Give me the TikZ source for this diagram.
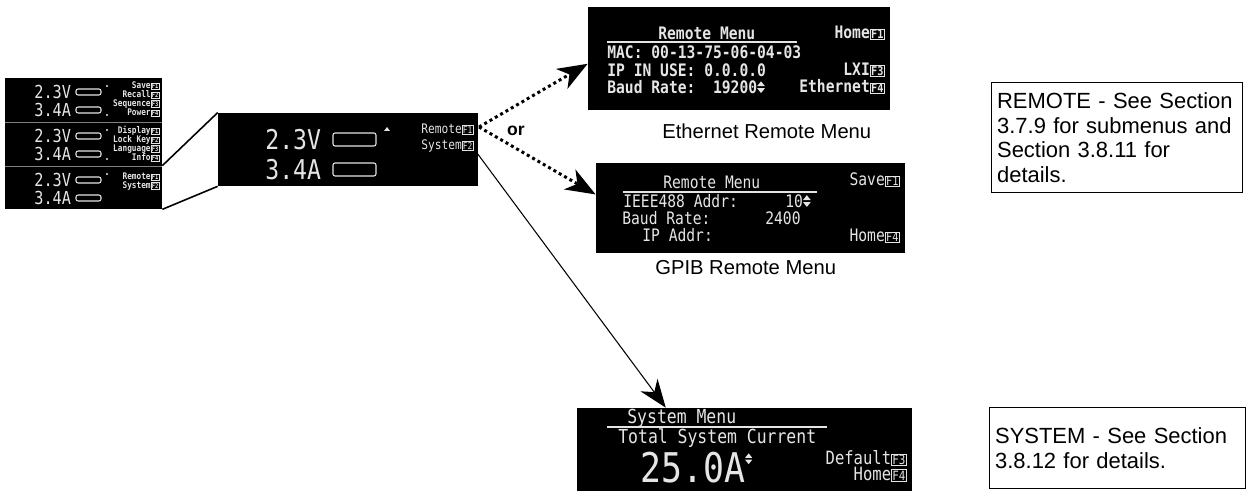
\documentclass[tikz,border=0pt]{standalone}
\usepackage{fontspec}
\setmainfont{Liberation Sans}
\newfontfamily\lcdfont[FakeStretch=0.85]{DejaVu Sans Mono}
\usetikzlibrary{arrows.meta,fit}
\definecolor{lcdfg}{gray}{0.9}
\newcommand\fkey[1]{{\fboxsep=0.3pt\fboxrule=0.4pt\fbox{\scalebox{0.7}{F#1}}}}
\newcommand\updn{\tikz[baseline=0pt,x=1em,y=1em]{\fill[lcdfg] (0,0.42) -- (0.45,0.42) -- (0.225,0.7) -- cycle
  (0,0.3) -- (0.45,0.3) -- (0.225,0.02) -- cycle;}}
\tikzset{
  screen/.style={fill=black,inner sep=0pt},
  lcd/.style={text=lcdfg,inner sep=0pt,font=\lcdfont\fontsize{#1}{#1}\selectfont},
  lcdb/.style={lcd=#1,font=\lcdfont\bfseries\fontsize{#1}{#1}\selectfont},
  lcdbar/.style={draw=lcdfg,line width=0.6pt,rounded corners=1.2pt},
  notebox/.style={draw,line width=0.7pt,inner sep=3pt,align=left,anchor=north west,font=\fontsize{12.5}{14}\selectfont},
  caption/.style={inner sep=0pt,anchor=west,font=\fontsize{11.5}{13}\selectfont},
  dotarrow/.style={line width=1.7pt,dash pattern=on 1.7pt off 1.8pt,-{Stealth[length=17pt,width=13pt,inset=5pt]}},
  solarrow/.style={line width=0.6pt,-{Stealth[length=16pt,width=12pt,inset=5pt]}}
}
\begin{document}
\begin{tikzpicture}[x=0.02cm,y=-0.02cm]
\useasboundingbox (0,0) rectangle (1251,493);
% the three small screens
\foreach \n/\t/\b in {1/78/122,2/122/166,3/166/209}
  \node[screen,fit={(5,\t)(162,\b)}] (small\n) {};
\draw[gray,line width=0.5pt] (small1.south west) -- (small1.south east);
\draw[gray,line width=0.5pt] (small2.south west) -- (small2.south east);
\foreach \t in {78,122,166} {
  \node[lcd=10.2,anchor=west] (volt\t) at (34,\t+14) {2.3V};
  \node[lcd=10.2,anchor=west] (amp\t) at (34,\t+32) {3.4A};
  \draw[lcdbar] (76,\t+11) rectangle (101,\t+17);
  \draw[lcdbar] (76,\t+29) rectangle (101,\t+35);
  \fill[lcdfg] (107,\t+8) circle (1.1);
}
\foreach \t in {78,122}
  \fill[lcdfg] (107,\t+37) circle (1.1);
\foreach \lab/\k/\y in {Save/1/86,Recall/2/95,Sequence/3/104,Power/4/113,
    Display/1/131,Lock Key/2/140,Language/3/149,Info/4/158,Remote/1/177,System/2/186}
  \node[lcdb=5.2,anchor=east] (lab\y) at (160,\y) {\lab\fkey{\k}};
% main screen
\node[screen,fit={(218,113)(478,186)}] (main) {};
\node[lcd=15.5,anchor=west] (mvolt) at (265,140) {2.3V};
\node[lcd=15.5,anchor=west] (mamp) at (265,170) {3.4A};
\draw[lcdbar] (333,133) rectangle (376,146);
\draw[lcdbar] (333,163) rectangle (376,176);
\fill[lcdfg] (384,131) -- (387,127) -- (390,131) -- cycle;
\node[lcd=7.5,anchor=east] (mrem) at (474,129) {Remote\fkey{1}};
\node[lcd=7.5,anchor=east] (msys) at (474,146) {System\fkey{2}};
\draw[line width=0.9pt] (small3.north east) -- (main.north west);
\draw[line width=0.9pt] (small3.south east) -- (main.south west);
\coordinate (remsrc) at (479,127);
\coordinate (syssrc) at (477,153);
% ethernet remote menu
\node[screen,fit={(588,7)(890,110)}] (eth) {};
\node[lcdb=9.8,anchor=west] (ethtitle) at (658,33) {Remote Menu};
\draw[lcdfg,line width=0.7pt] (607,42) -- (797,42);
\node[lcdb=9.8,anchor=west] (ethmac) at (607,52) {MAC: 00-13-75-06-04-03};
\node[lcdb=9.8,anchor=west] (ethip) at (607,70) {IP IN USE: 0.0.0.0};
\node[lcdb=9.8,anchor=west] (ethbaud) at (607,87) {Baud Rate:\ \ 19200\updn};
\node[lcdb=9.8,anchor=east] (ethhome) at (885,33) {Home\fkey{1}};
\node[lcdb=9.8,anchor=east] (ethlxi) at (885,70) {LXI\fkey{3}};
\node[lcdb=9.8,anchor=east] (ethnet) at (885,87) {Ethernet\fkey{4}};
\node[caption] (ethcap) at (662,131) {Ethernet Remote Menu};
% gpib remote menu
\node[screen,fit={(596,163)(905,253)}] (gpib) {};
\node[lcd=9.8,anchor=west] (gptitle) at (663,182) {Remote Menu};
\draw[lcdfg,line width=0.6pt] (623,192) -- (817,192);
\node[lcd=9.8,anchor=west] (gpaddr) at (623,201) {IEEE488 Addr:};
\node[lcd=9.8,anchor=west] (gpten) at (785,201) {10\updn};
\node[lcd=9.8,anchor=west] (gpbaud) at (622,218) {Baud Rate:};
\node[lcd=9.8,anchor=west] (gprate) at (765,218) {2400};
\node[lcd=9.8,anchor=west] (gpip) at (642,235) {IP Addr:};
\node[lcd=9.8,anchor=east] (gpsave) at (900,180) {Save\fkey{1}};
\node[lcd=9.8,anchor=east] (gphome) at (900,236) {Home\fkey{4}};
\node[caption] (gpcap) at (655,268) {GPIB Remote Menu};
% system menu
\node[screen,fit={(577,408)(912,491)}] (sys) {};
\node[lcd=11,anchor=west] (systitle) at (627,418) {System Menu};
\draw[lcdfg,line width=0.6pt] (607,427) -- (827,427);
\node[lcd=11,anchor=west] (syscur) at (618,438) {Total System Current};
\node[lcd=23.3,anchor=west] (sysval) at (640,468) {25.0A\raisebox{10.5pt}{\fontsize{9}{9}\selectfont\updn}};
\node[lcd=10.4,anchor=east] (sysdef) at (907,458) {Default\fkey{3}};
\node[lcd=10.4,anchor=east] (syshome) at (907,474) {Home\fkey{4}};
% arrows
\draw[dotarrow] (remsrc) -- (eth.182);
\draw[dotarrow] (remsrc) -- (gpib.175);
\draw[solarrow] (syssrc) -- (sys.152);
\node[font=\bfseries\fontsize{10}{12}\selectfont] (ortext) at (516,131) {or};
% notes
\node[notebox,minimum width=5.02cm,minimum height=2.2cm,text width=4.8cm] (remnote) at (991,82)
  {REMOTE - See Section\\3.7.9 for submenus and\\Section 3.8.11 for\\details.};
\node[notebox,minimum width=5.12cm,minimum height=1.62cm,text width=4.9cm] (sysnote) at (989,407)
  {SYSTEM - See Section\\3.8.12 for details.};
\end{tikzpicture}
\end{document}
